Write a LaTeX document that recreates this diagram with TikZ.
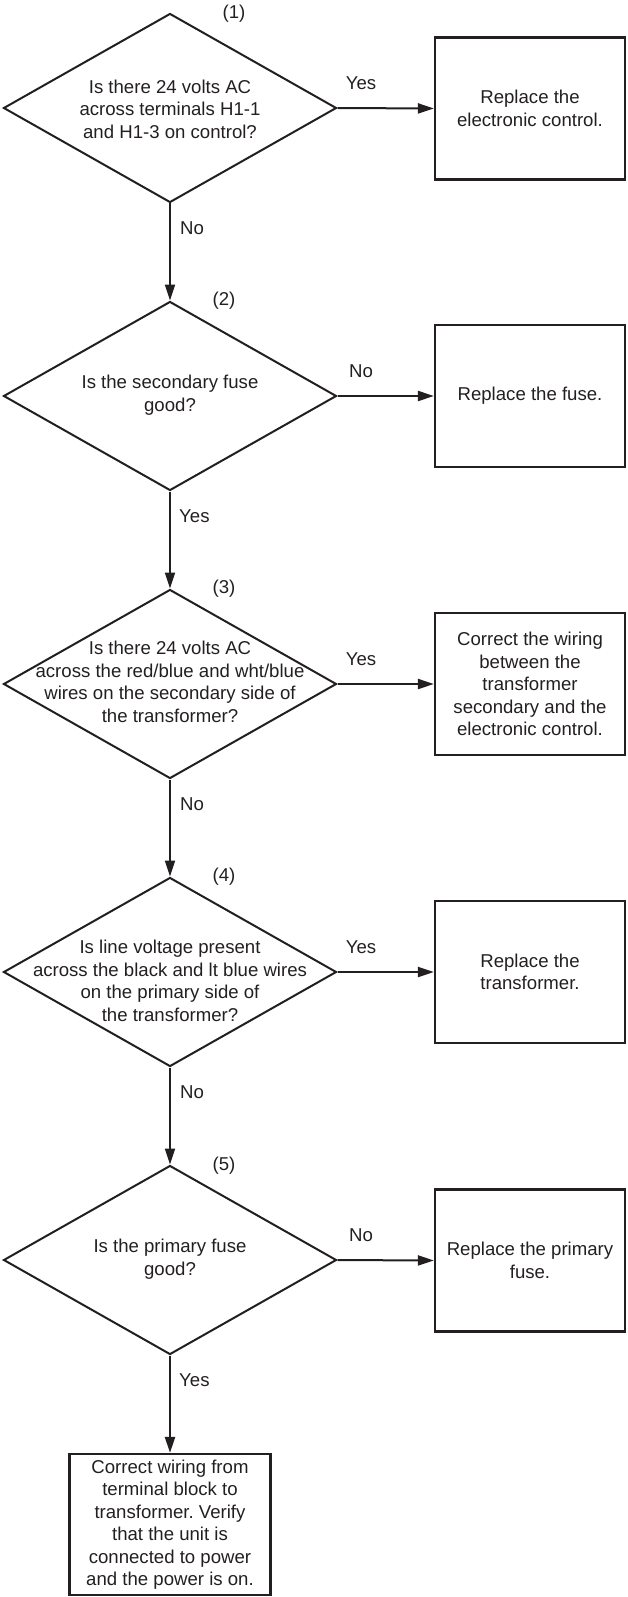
\documentclass[tikz,border=0pt]{standalone}
\usepackage{fontspec}
\setmainfont{Liberation Sans}
\usetikzlibrary{shapes.geometric,arrows.meta}
\definecolor{ink}{RGB}{35,31,32}
\frenchspacing
\begin{document}
\begin{tikzpicture}[x=1pt,y=-1pt,
  every node/.style={font=\fontsize{18.6}{22.5}\selectfont, text=ink},
  dec/.style={draw=ink, line width=2pt, shape=diamond, minimum width=333pt, minimum height=189pt, inner sep=0pt},
  actbox/.style={draw=ink, line width=2.2pt, rectangle, minimum width=190pt, minimum height=142pt, align=center, inner sep=0pt},
  qtext/.style={align=center, inner sep=0pt},
  lbl/.style={inner sep=0pt},
  arr/.style={draw=ink, line width=2pt, -{Triangle[length=16pt,width=10pt]}},
]
\useasboundingbox (0,0) rectangle (627,1597);

% decisions
\node[dec] (d1) at (170,108) {};
\node[dec] (d2) at (170,396) {};
\node[dec] (d3) at (170,684) {};
\node[dec] (d4) at (170,972) {};
\node[dec] (d5) at (170,1260) {};

\node[qtext] (q1) at (170,109) {Is there 24 volts AC\\across terminals H1-1\\and H1-3 on control?};
\node[qtext] (q2) at (170,395) {Is the secondary fuse\\good?};
\node[qtext] (q3) at (170,682) {Is there 24 volts AC\\across the red/blue and wht/blue\\wires on the secondary side of\\the transformer?};
\node[qtext] (q4) at (170,981) {Is line voltage present\\across the black and lt blue wires\\on the primary side of\\the transformer?};
\node[qtext] (q5) at (170,1259) {Is the primary fuse\\good?};

% actions
\node[actbox] (b1) at (530,108.5) {Replace the\\electronic control.};
\node[actbox] (b2) at (530,396) {Replace the fuse.};
\node[actbox] (b3) at (530,684) {Correct the wiring\\between the\\transformer\\secondary and the\\electronic control.};
\node[actbox] (b4) at (530,972) {Replace the\\transformer.};
\node[actbox] (b5) at (530,1260.5) {Replace the primary\\fuse.};
\node[actbox, minimum width=201pt, minimum height=141pt] (b6) at (170,1524.5) {Correct wiring from\\terminal block to\\transformer. Verify\\that the unit is\\connected to power\\and the power is on.};

% step numbers
\node[lbl] (n1) at (234,14) {(1)};
\node[lbl] (n2) at (224,301) {(2)};
\node[lbl] (n3) at (224,589) {(3)};
\node[lbl] (n4) at (224,877) {(4)};
\node[lbl] (n5) at (224,1166) {(5)};

% connectors
\draw[arr] (d1.east) -- (b1.west);
\draw[arr] (d2.east) -- (b2.west);
\draw[arr] (d3.east) -- (b3.west);
\draw[arr] (d4.east) -- (b4.west);
\draw[arr] (d5.east) -- (b5.west);
\draw[arr] (d1.south) -- (d2.north);
\draw[arr] (d2.south) -- (d3.north);
\draw[arr] (d3.south) -- (d4.north);
\draw[arr] (d4.south) -- (d5.north);
\draw[arr] (d5.south) -- (b6.north);

% connector labels
\node[lbl] (y1) at (361,83) {Yes};
\node[lbl] (y2) at (361,371) {No};
\node[lbl] (y3) at (361,659) {Yes};
\node[lbl] (y4) at (361,947) {Yes};
\node[lbl] (y5) at (361,1235) {No};
\node[lbl, anchor=west] (m1) at (180,228) {No};
\node[lbl, anchor=west] (m2) at (179,516) {Yes};
\node[lbl, anchor=west] (m3) at (180,804) {No};
\node[lbl, anchor=west] (m4) at (180,1092) {No};
\node[lbl, anchor=west] (m5) at (179,1380) {Yes};
\end{tikzpicture}
\end{document}
